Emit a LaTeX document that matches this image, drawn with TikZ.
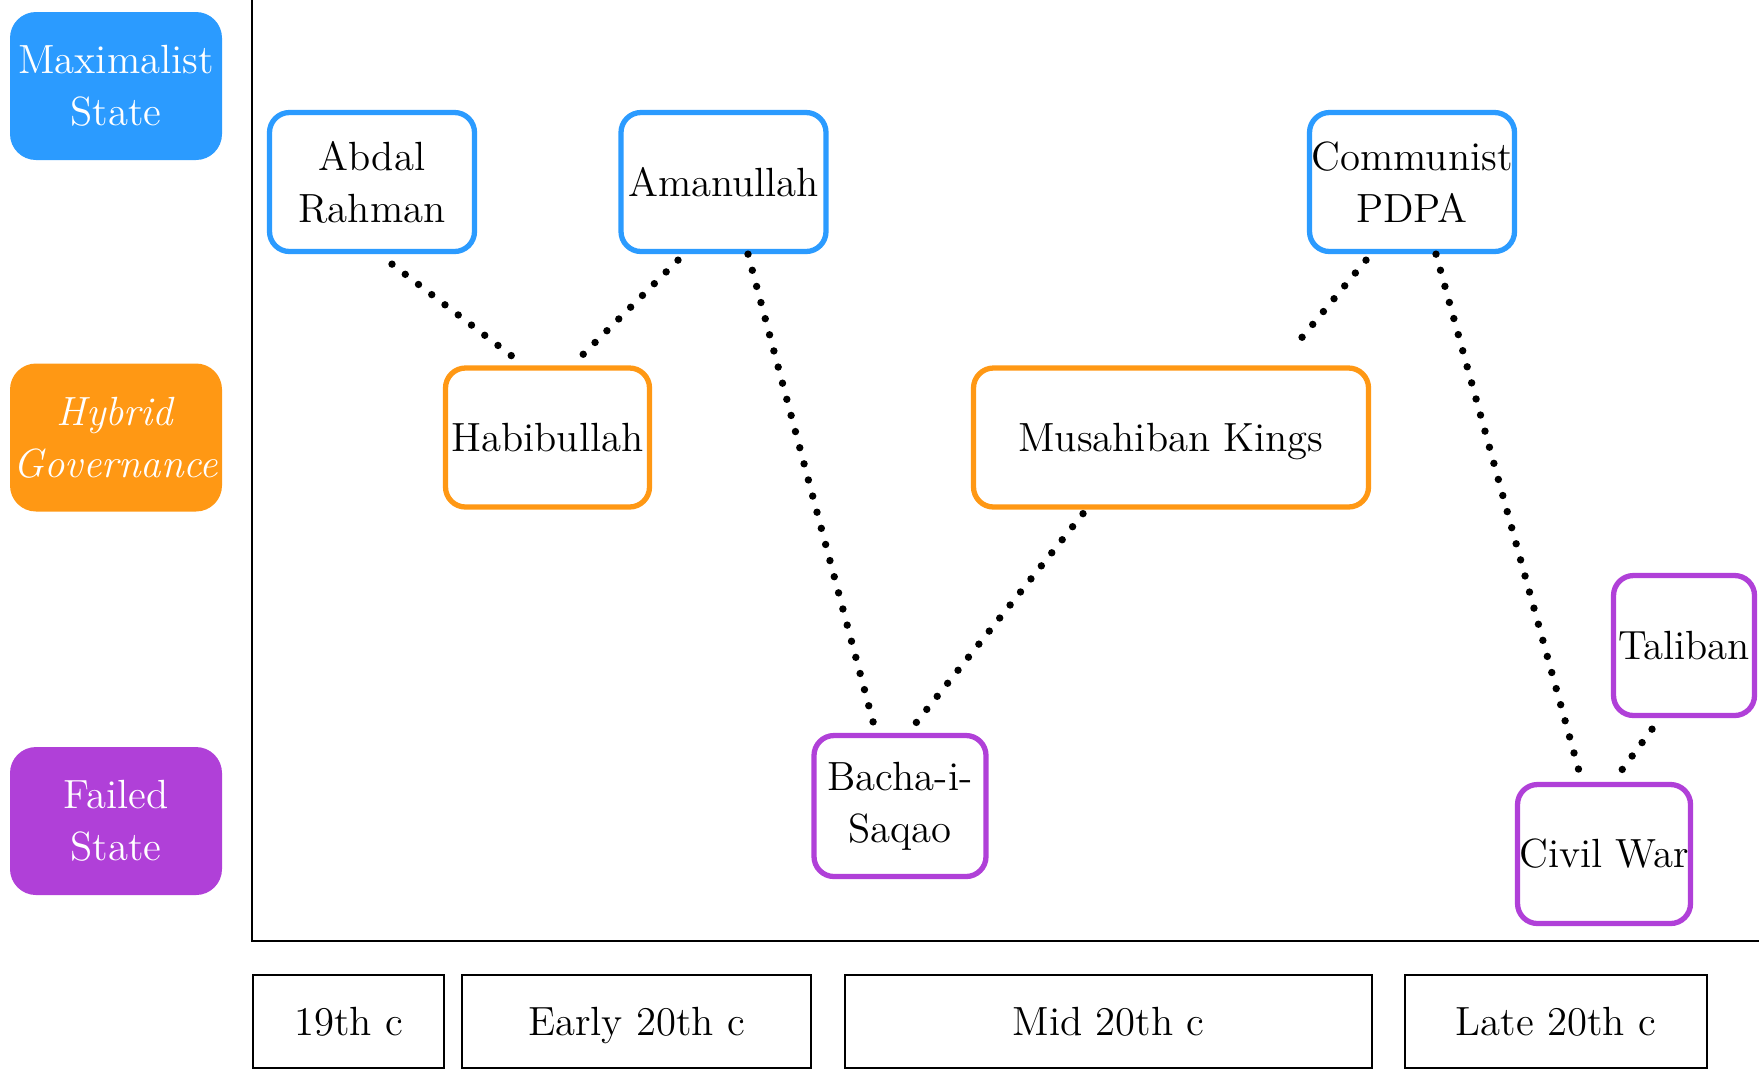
\documentclass[tikz,border=0pt]{standalone}
\usepackage{tikz}
\usetikzlibrary{calc}

\definecolor{maxblue}{RGB}{43,155,255}
\definecolor{hyborange}{RGB}{255,152,20}
\definecolor{failpurple}{RGB}{176,64,216}

\begin{document}
\begin{tikzpicture}[
    every node/.style={font=\fontsize{11.6}{14.8}\selectfont, align=center, inner sep=0pt},
    legend/.style={fill=#1, text=white, rounded corners=0.26cm, minimum width=2.12cm, minimum height=1.48cm},
    stage/.style={draw=#1, line width=1.5pt, fill=white, rounded corners=0.2cm, minimum height=1.39cm},
    era/.style={draw, line width=0.6pt, minimum height=0.93cm, text height=10.2pt, text depth=2.2pt},
    link/.style={line width=2.1pt, line cap=round, dash pattern=on 0pt off 4.75pt}
]
\useasboundingbox (0,0) rectangle (17.59,-10.73);

%axes
\draw[line width=0.6pt] (2.52,0) |- (17.59,-9.41);

%legend
\node[legend=maxblue] (maxi) at (1.16,-0.86) {Maximalist\\State};
\node[legend=hyborange] (hybrid) at (1.16,-4.375) {\textit{Hybrid}\\\textit{Governance}};
\node[legend=failpurple] (failed) at (1.16,-8.21) {Failed\\State};

%stages
\node[stage=maxblue, minimum width=2.05cm] (abdal) at (3.72,-1.82) {Abdal\\Rahman};
\node[stage=maxblue, minimum width=2.05cm] (aman) at (7.235,-1.82) {Amanullah};
\node[stage=maxblue, minimum width=2.05cm] (pdpa) at (14.12,-1.82) {Communist\\PDPA};
\node[stage=hyborange, minimum width=2.04cm] (habib) at (5.475,-4.375) {Habibullah};
\node[stage=hyborange, minimum width=3.95cm, text height=10.2pt, text depth=2.2pt] (musa) at (11.71,-4.375) {Musahiban Kings};
\node[stage=failpurple, minimum width=1.72cm, minimum height=1.41cm] (bacha) at (9.0,-8.06) {Bacha-i-\\Saqao};
\node[stage=failpurple, minimum width=1.41cm, minimum height=1.40cm] (taliban) at (16.84,-6.455) {Taliban};
\node[stage=failpurple, minimum width=1.73cm] (civil) at (16.04,-8.54) {Civil War};

%eras
\node[era, minimum width=1.91cm] (c19) at (3.485,-10.215) {19th c};
\node[era, minimum width=3.49cm] (early) at (6.365,-10.215) {Early 20th c};
\node[era, minimum width=5.27cm] (mid) at (11.085,-10.215) {Mid 20th c};
\node[era, minimum width=3.02cm] (late) at (15.56,-10.215) {Late 20th c};

%links
\draw[link] ([xshift=0.2cm,yshift=-0.1cm]abdal.south) -- ([xshift=-0.235cm]habib.north);
\draw[link] ([xshift=-0.455cm,yshift=-0.06cm]aman.south) -- ([xshift=0.245cm]habib.north);
\draw[link] ([xshift=0.245cm]aman.south) -- ([xshift=-0.24cm]bacha.north);
\draw[link] ([xshift=-0.88cm,yshift=-0.04cm]musa.south) -- ([xshift=0.08cm]bacha.north);
\draw[link] ([xshift=-0.46cm,yshift=-0.06cm]pdpa.south) -- ([xshift=1.21cm,yshift=0.16cm]musa.north);
\draw[link] ([xshift=0.24cm]pdpa.south) -- ([xshift=-0.22cm]civil.north);
\draw[link] ([xshift=-0.32cm,yshift=-0.11cm]taliban.south) -- ([xshift=0.09cm]civil.north);
\end{tikzpicture}
\end{document}
